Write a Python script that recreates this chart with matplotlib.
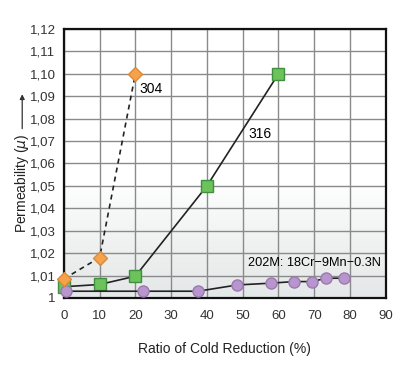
import matplotlib
matplotlib.use('Agg')
import matplotlib.pyplot as plt
import numpy as np
from matplotlib.colors import LinearSegmentedColormap
from matplotlib.ticker import FuncFormatter

plt.rcParams['font.family'] = ['Liberation Sans', 'DejaVu Sans']

# data
x_304 = [0, 10, 20]
y_304 = [1.0085, 1.018, 1.100]

x_316 = [0, 10, 20, 40, 60]
y_316 = [1.005, 1.006, 1.0097, 1.050, 1.100]

x_202 = [0.5, 22, 37.5, 48.5, 58, 64.3, 69.3, 73.4, 78.2]
y_202 = [1.003, 1.003, 1.003, 1.0058, 1.0066, 1.0073, 1.0073, 1.0088, 1.0088]

x_ticks = np.arange(0, 91, 10)
y_ticks = np.round(np.arange(1.0, 1.1201, 0.01), 2)

fig = plt.figure(figsize=(4.04, 3.81), dpi=100)
ax = fig.add_axes([0.158, 0.218, 0.797, 0.706])

# light gray shading fading in toward the bottom of the plot area
grad = np.linspace(0, 1, 200).reshape(-1, 1) ** 0.8
cmap = LinearSegmentedColormap.from_list('shade', ['#ffffff', '#e5e8e8'])
ax.imshow(grad, extent=[0, 90, 1.0, 1.05], aspect='auto', cmap=cmap,
          origin='upper', zorder=0, interpolation='bilinear')

ax.plot(x_304, y_304, ls=(0, (3, 2.5)), color='#222222', lw=1.2, zorder=3)
ax.plot(x_304, y_304, ls='none', marker='D', ms=7, mfc='#f6a24c',
        mec='#d98a3a', zorder=4, clip_on=False)

ax.plot(x_316, y_316, color='#222222', lw=1.2, marker='s', ms=8,
        mfc='#6cc35c', mec='#3f8f3f', zorder=3, clip_on=False)

ax.plot(x_202, y_202, color='#222222', lw=1.2, marker='o', ms=8,
        mfc='#b895cc', mec='#9a7ab0', zorder=3, clip_on=False)

ax.text(21, 1.093, '304', fontsize=10, va='center', ha='left')
ax.text(51.5, 1.073, '316', fontsize=10, va='center', ha='left')
ax.text(51.5, 1.0155, '202M: 18Cr\u22129Mn\u22120.3N', fontsize=9.2,
        va='center', ha='left')

ax.set_xlim(0, 90)
ax.set_ylim(1.0, 1.12)
ax.set_xticks(x_ticks)
ax.set_yticks(y_ticks)
ax.yaxis.set_major_formatter(FuncFormatter(
    lambda v, p: '1' if abs(v - 1) < 1e-9 else f'{v:.2f}'.replace('.', ',')))
ax.tick_params(length=0, labelsize=9.5, labelcolor='#333333')
ax.tick_params(axis='y', pad=6)
ax.tick_params(axis='x', pad=9)
ax.grid(True, color='#8a8a8a', lw=1.0, zorder=1)
ax.set_axisbelow(True)
for s in ax.spines.values():
    s.set_linewidth(1.6)
    s.set_color('#111111')

ax.set_xlabel('Ratio of Cold Reduction (%)', fontsize=10, color='#222222',
              labelpad=14)

fig.text(0.055, 0.52, r'Permeability ($\mu$)', rotation=90, fontsize=10,
         ha='center', va='center', color='#222222')
fig.add_artist(matplotlib.patches.FancyArrowPatch(
    (0.055, 0.655), (0.055, 0.76), transform=fig.transFigure,
    arrowstyle='-|>', mutation_scale=7, lw=0.9, color='#333333'))

fig.savefig('out.png', dpi=100)
